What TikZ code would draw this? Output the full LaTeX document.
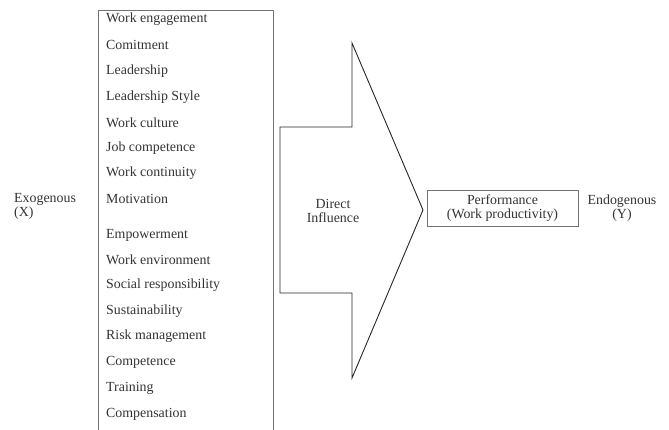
\documentclass[tikz,border=0pt]{standalone}
\usepackage{fontspec}
\setmainfont{Liberation Serif}
\usetikzlibrary{positioning}

\tikzset{
  item/.style={anchor=west, inner sep=0pt, text=black!80, font=\fontsize{13.9}{16}\selectfont},
  label/.style={align=center, inner sep=0pt, text=black!80, font=\fontsize{13.9}{16}\selectfont},
  frame/.style={draw=black!55, line width=0.8pt}
}

\begin{document}
\begin{tikzpicture}[x=1pt, y=-1pt]
  \useasboundingbox (0,0) rectangle (669,430);
  % list of exogenous factors
  \draw[frame] (98,430) -- (98,10) -- (273,10) -- (273,430);
  \foreach \name/\ypos/\txt in {
      f1/19/Work engagement, f2/45/Comitment, f3/71/Leadership,
      f4/97/Leadership Style, f5/123/Work culture, f6/148/Job competence,
      f7/173/Work continuity, f8/199/Motivation, f9/235/Empowerment,
      f10/260/Work environment, f11/285/Social responsibility,
      f12/311/Sustainability, f13/336/Risk management, f14/362/Competence,
      f15/388/Training, f16/414/Compensation}
    \node[item] (\name) at (106,\ypos) {\txt};
  \node[label, align=left, anchor=west] (exo) at (14,206) {Exogenous\\[-2pt](X)};
  % big arrow
  \draw[black!85, line width=0.9pt]
    (280,127) -- (352,127) -- (352,43) -- (423,210) -- (352,378)
    -- (352,293) -- (280,293) -- cycle;
  \node[label] (direct) at (333,211) {Direct\\[-2pt]Influence};
  % outcome
  \node[label, frame, minimum width=151pt, minimum height=36pt] (perf) at (502.5,208)
    {Performance\\[-2pt](Work productivity)};
  \node[label] (endo) at (622,208) {Endogenous\\[-2pt](Y)};
\end{tikzpicture}
\end{document}
